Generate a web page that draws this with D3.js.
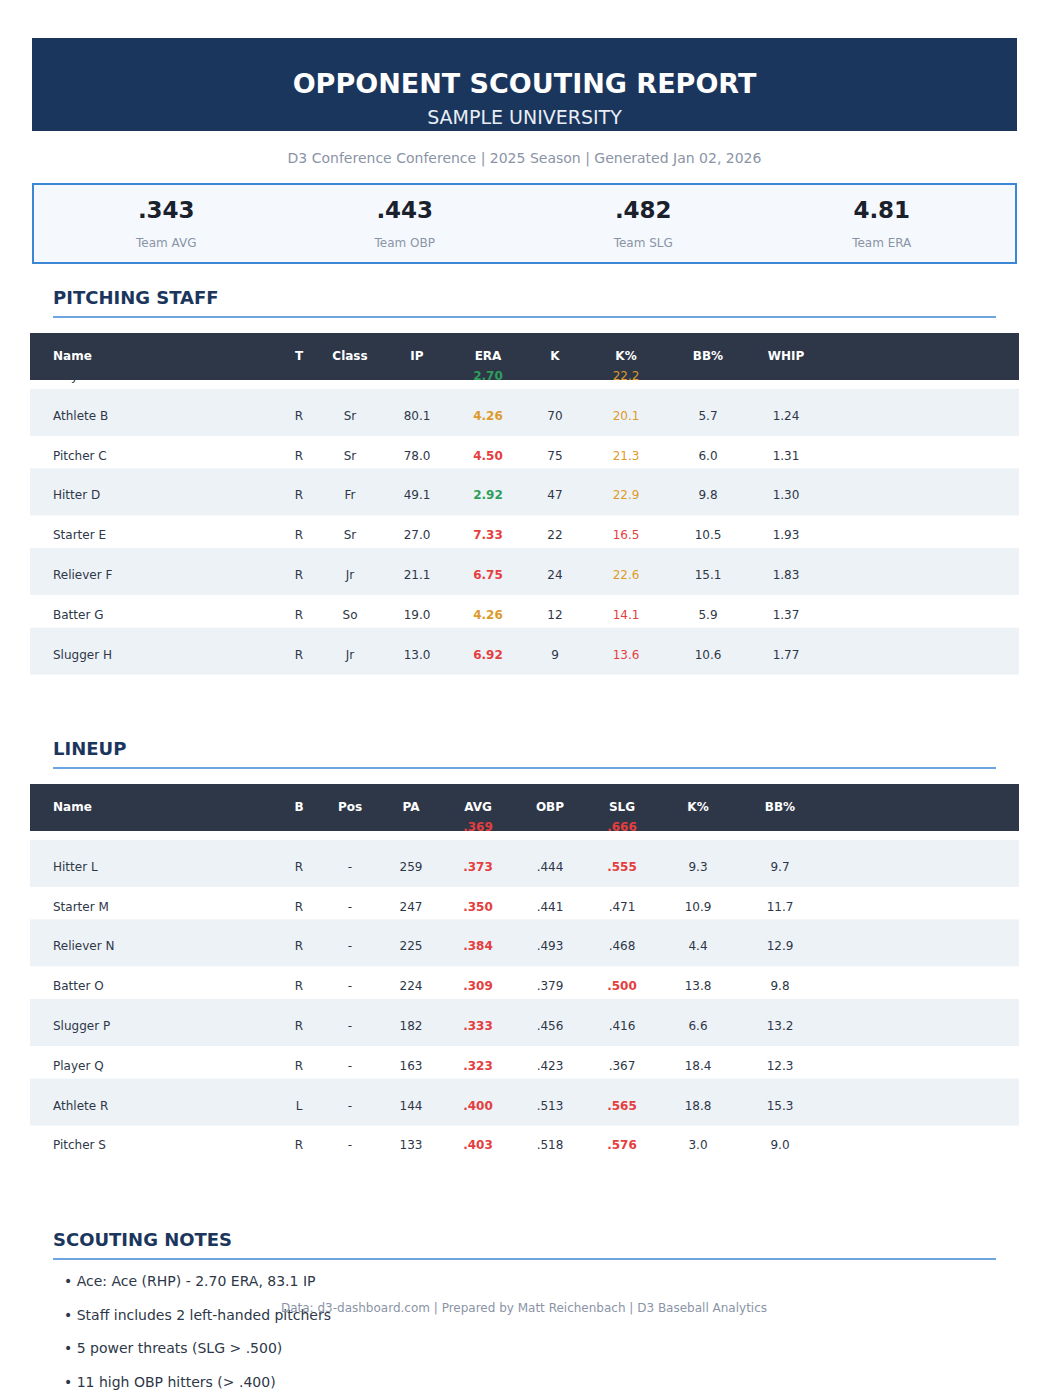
<!DOCTYPE html>
<html><head><meta charset="utf-8">
<script src="https://cdn.jsdelivr.net/npm/d3@7"></script>
<style>body{margin:0;background:#fff;font-family:"DejaVu Sans",sans-serif}</style>
</head><body><div id="chart"></div>
<script>
const kpiValues = ['.343', '.443', '.482', '4.81'];
const kpiLabels = ['Team AVG', 'Team OBP', 'Team SLG', 'Team ERA'];

const pitchCols = ['Name', 'T', 'Class', 'IP', 'ERA', 'K', 'K%', 'BB%', 'WHIP'];
const pitchers = [
  ['Player A', 'R', 'Sr', '83.1', '2.70', '77', '22.2', '6.3', '1.18'],
  ['Athlete B', 'R', 'Sr', '80.1', '4.26', '70', '20.1', '5.7', '1.24'],
  ['Pitcher C', 'R', 'Sr', '78.0', '4.50', '75', '21.3', '6.0', '1.31'],
  ['Hitter D', 'R', 'Fr', '49.1', '2.92', '47', '22.9', '9.8', '1.30'],
  ['Starter E', 'R', 'Sr', '27.0', '7.33', '22', '16.5', '10.5', '1.93'],
  ['Reliever F', 'R', 'Jr', '21.1', '6.75', '24', '22.6', '15.1', '1.83'],
  ['Batter G', 'R', 'So', '19.0', '4.26', '12', '14.1', '5.9', '1.37'],
  ['Slugger H', 'R', 'Jr', '13.0', '6.92', '9', '13.6', '10.6', '1.77']
];
const pitchX = [53, 299, 350, 417, 488, 555, 626, 708, 786];

const batCols = ['Name', 'B', 'Pos', 'PA', 'AVG', 'OBP', 'SLG', 'K%', 'BB%'];
const batters = [
  ['Pitcher K', 'R', '-', '262', '.369', '.454', '.666', '9.9', '10.7'],
  ['Hitter L', 'R', '-', '259', '.373', '.444', '.555', '9.3', '9.7'],
  ['Starter M', 'R', '-', '247', '.350', '.441', '.471', '10.9', '11.7'],
  ['Reliever N', 'R', '-', '225', '.384', '.493', '.468', '4.4', '12.9'],
  ['Batter O', 'R', '-', '224', '.309', '.379', '.500', '13.8', '9.8'],
  ['Slugger P', 'R', '-', '182', '.333', '.456', '.416', '6.6', '13.2'],
  ['Player Q', 'R', '-', '163', '.323', '.423', '.367', '18.4', '12.3'],
  ['Athlete R', 'L', '-', '144', '.400', '.513', '.565', '18.8', '15.3'],
  ['Pitcher S', 'R', '-', '133', '.403', '.518', '.576', '3.0', '9.0']
];
const batX = [53, 299, 350, 411, 478, 550, 622, 698, 780];

const notes = [
  '• Ace: Ace (RHP) - 2.70 ERA, 83.1 IP',
  '• Staff includes 2 left-handed pitchers',
  '• 5 power threats (SLG > .500)',
  '• 11 high OBP hitters (> .400)'
];

const W = 1049, H = 1400;
const navy = '#1b365d', blue = '#3b87d4', dark = '#2d3748', gray = '#8a94a6';
const red = '#e53e3e', green = '#2f9e5b', orange = '#dd9a2b';

const svg = d3.select('#chart').append('svg').attr('width', W).attr('height', H);

svg.append('rect').attr('x', 32).attr('y', 38).attr('width', 985).attr('height', 93).attr('fill', navy);
svg.append('text').attr('x', W / 2).attr('y', 93).attr('text-anchor', 'middle').attr('fill', '#fff')
  .attr('font-size', 27).attr('font-weight', 'bold').text('OPPONENT SCOUTING REPORT');
svg.append('text').attr('x', W / 2).attr('y', 124).attr('text-anchor', 'middle').attr('fill', '#e8eef6')
  .attr('font-size', 19).text('SAMPLE UNIVERSITY');
svg.append('text').attr('x', W / 2).attr('y', 163).attr('text-anchor', 'middle').attr('fill', gray)
  .attr('font-size', 14).text('D3 Conference Conference  |  2025 Season  |  Generated Jan 02, 2026');

svg.append('rect').attr('x', 33).attr('y', 184).attr('width', 983).attr('height', 79)
  .attr('fill', '#f5f9fd').attr('stroke', blue).attr('stroke-width', 2);
const kx = d3.scaleBand().domain(kpiLabels).range([47, 1001]);
kpiLabels.forEach((l, i) => {
  const cx = kx(l) + kx.bandwidth() / 2;
  svg.append('text').attr('x', cx).attr('y', 218).attr('text-anchor', 'middle').attr('fill', '#1a202c')
    .attr('font-size', 23).attr('font-weight', 'bold').text(kpiValues[i]);
  svg.append('text').attr('x', cx).attr('y', 247).attr('text-anchor', 'middle').attr('fill', gray)
    .attr('font-size', 12).text(l);
});

function section(title, y) {
  svg.append('text').attr('x', 53).attr('y', y).attr('fill', navy).attr('font-size', 18)
    .attr('font-weight', 'bold').text(title);
  svg.append('line').attr('x1', 53).attr('x2', 996).attr('y1', y + 13).attr('y2', y + 13)
    .attr('stroke', blue).attr('stroke-width', 1.5);
}

function table(cols, rows, xs, top, colorFn) {
  svg.append('rect').attr('x', 30).attr('y', top).attr('width', 989).attr('height', 47).attr('fill', dark);
  cols.forEach((c, j) => {
    svg.append('text').attr('x', xs[j]).attr('y', top + 27).attr('text-anchor', j ? 'middle' : 'start')
      .attr('fill', '#fff').attr('font-size', 12).attr('font-weight', 'bold').text(c);
  });
  const y = d3.scaleLinear().domain([0, 1]).range([top + 43, top + 43 + 39.8]);
  rows.forEach((r, i) => {
    if (i % 2) svg.append('rect').attr('x', 30).attr('y', y(i) - 27).attr('width', 989).attr('height', 47).attr('fill', '#edf2f7');
  });
  rows.forEach((r, i) => {
    r.forEach((v, j) => {
      const st = colorFn(j, v);
      svg.append('text').attr('x', xs[j]).attr('y', y(i) + 4).attr('text-anchor', j ? 'middle' : 'start')
        .attr('fill', st.c).attr('font-weight', st.b ? 'bold' : 'normal')
        .attr('font-size', 12).attr('textLength', null).text(v);
    });
  });
}

section('PITCHING STAFF', 304);
table(pitchCols, pitchers, pitchX, 333, (j, v) => {
  if (j === 4) { const e = +v; return { c: e < 3.5 ? green : e < 4.5 ? orange : red, b: true }; }
  if (j === 6) return { c: +v >= 20 ? orange : red, b: false };
  return { c: dark, b: false };
});

section('LINEUP', 755);
table(batCols, batters, batX, 784, (j, v) => {
  if (j === 4) return { c: red, b: true };
  if (j === 6 && +v >= 0.5) return { c: red, b: true };
  return { c: dark, b: false };
});

section('SCOUTING NOTES', 1246);
notes.forEach((n, i) => {
  svg.append('text').attr('x', 64).attr('y', 1286 + i * 33.5).attr('fill', dark).attr('font-size', 14).text(n);
});
svg.append('text').attr('x', 524).attr('y', 1312).attr('text-anchor', 'middle').attr('fill', gray)
  .attr('font-size', 12).text('Data: d3-dashboard.com  |  Prepared by Matt Reichenbach  |  D3 Baseball Analytics');
</script></body></html>
